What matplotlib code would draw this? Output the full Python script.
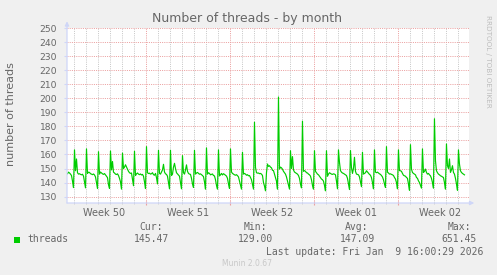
import matplotlib
matplotlib.use("Agg")
import matplotlib.pyplot as plt
from matplotlib.patches import Rectangle
import numpy as np

# ---------------- data (2-hour samples, starting Mon Dec 8 2025 09:00) ----------------
threads = [
    146.0, 146.3, 147.4, 146.8, 146.0, 145.0, 141.0, 136.4,
    163.3, 148.4, 156.8, 147.0, 146.0, 146.3, 145.8, 145.5, 145.9, 144.6, 140.5, 136.2,
    164.0, 146.5, 147.4, 147.2, 146.3, 146.0, 145.6, 146.1, 145.4, 144.0, 140.0, 135.7,
    162.0, 146.0, 147.5, 146.8, 146.2, 145.8, 146.4, 145.5, 144.5, 143.5, 138.5, 135.8,
    162.5, 149.0, 155.0, 147.4, 146.8, 146.0, 145.7, 146.2, 145.0, 143.0, 140.5, 135.3,
    161.0, 150.0, 151.0, 152.7, 151.0, 149.5, 148.0, 147.0, 146.5, 146.8, 142.0, 137.7,
    162.3, 145.0, 146.2, 146.8, 146.0, 145.6, 146.1, 145.4, 145.8, 144.5, 140.5, 135.7,
    165.6, 147.0, 146.4, 146.7, 146.0, 146.3, 147.0, 145.6, 145.2, 146.5, 143.5, 139.0,
    163.0, 146.5, 146.0, 147.5, 149.0, 153.0, 147.5, 146.2, 145.8, 144.5, 140.0, 135.5,
    163.0, 145.0, 146.0, 151.0, 153.7, 150.0, 147.0, 146.2, 145.5, 144.5, 140.0, 135.5,
    159.2, 147.0, 146.0, 149.0, 152.6, 148.0, 146.5, 146.0, 145.8, 143.0, 139.0, 136.5,
    163.0, 146.0, 146.8, 147.2, 146.5, 145.9, 146.2, 145.6, 145.0, 144.2, 140.5, 135.3,
    164.7, 146.0, 147.0, 146.5, 145.5, 145.8, 146.1, 145.0, 144.7, 142.0, 138.0, 135.3,
    163.3, 144.7, 145.5, 146.5, 145.4, 146.3, 145.8, 145.2, 144.6, 143.0, 139.0, 135.8,
    164.0, 147.5, 146.5, 146.0, 145.5, 145.2, 145.6, 144.9, 144.0, 141.0, 138.0, 135.3,
    161.6, 146.0, 146.5, 146.0, 145.2, 145.6, 144.8, 145.0, 143.6, 142.0, 138.5, 135.3,
    183.0, 150.8, 147.0, 146.7, 146.8, 146.3, 146.5, 146.0, 145.0, 140.0, 137.5, 134.1,
    147.0, 153.2, 151.5, 152.0, 151.0, 150.5, 148.7, 148.5, 146.0, 143.5, 141.0, 135.3,
    201.0, 149.6, 151.0, 150.5, 149.5, 148.0, 147.0, 146.0, 144.0, 141.0, 138.0, 135.3,
    162.7, 150.0, 158.5, 149.0, 147.5, 147.0, 146.5, 146.0, 145.0, 143.0, 139.0, 136.2,
    183.8, 148.0, 148.5, 148.0, 147.0, 146.8, 146.0, 145.5, 144.6, 142.0, 138.0, 135.3,
    162.7, 148.0, 147.0, 146.0, 145.5, 144.5, 143.5, 142.5, 142.0, 141.0, 138.0, 134.1,
    162.7, 144.5, 146.0, 147.0, 146.5, 146.0, 145.8, 146.2, 146.0, 145.5, 141.0, 135.5,
    163.3, 154.4, 148.5, 147.4, 146.8, 146.5, 146.0, 145.5, 145.0, 143.0, 139.0, 135.0,
    162.8, 150.8, 146.5, 150.0, 158.0, 148.0, 146.0, 145.8, 145.5, 144.0, 140.5, 137.0,
    161.6, 146.0, 146.5, 147.0, 148.4, 147.5, 146.5, 145.8, 145.2, 143.5, 140.0, 135.5,
    163.3, 147.4, 147.0, 147.4, 146.8, 146.2, 145.8, 145.0, 144.0, 142.0, 139.0, 136.5,
    165.6, 147.4, 146.8, 146.0, 146.2, 145.8, 145.5, 145.0, 143.6, 142.5, 140.0, 135.5,
    163.3, 148.5, 148.4, 148.0, 146.5, 145.2, 144.8, 144.5, 143.6, 143.0, 139.0, 134.5,
    167.0, 149.6, 147.2, 146.5, 146.0, 145.5, 143.6, 143.0, 141.2, 140.0, 138.0, 136.0,
    164.0, 147.2, 148.0, 149.6, 147.2, 146.0, 146.5, 145.5, 144.8, 143.0, 140.0, 136.0,
    185.5, 155.6, 148.4, 147.0, 146.0, 145.5, 144.8, 144.5, 144.0, 143.6, 140.0, 135.3,
    167.5, 152.0, 150.0, 156.8, 147.2, 149.0, 152.0, 147.2, 146.0, 143.0, 139.0, 134.5,
    163.3, 153.2, 148.4, 147.2, 146.5, 146.0, 145.47,
]
start_day = 0.375          # Dec 8 2025 09:00, in days since Mon Dec 8 00:00
samples_per_day = 12

week_labels = ["Week 50", "Week 51", "Week 52", "Week 01", "Week 02"]
week_starts = [7, 14, 21, 28]
y_ticks = list(range(130, 251, 10))

legend_name = "threads"
stat_names = ["Cur:", "Min:", "Avg:", "Max:"]
stat_values = ["145.47", "129.00", "147.09", "651.45"]
last_update = "Last update: Fri Jan  9 16:00:29 2026"

# ---------------- style ----------------
BACK = "#F0F0F0"
FONT = "#666666"
AXIS = "#CFD6F8"
MGRID = "#EBA0A0"
GRID = "#C8C8C8"
LINE = "#00CC00"
W, H = 497, 275

fig = plt.figure(figsize=(W / 100, H / 100), dpi=100)
fig.patch.set_facecolor(BACK)
ax = fig.add_axes([67 / W, 72 / H, 402 / W, 174.7 / H])
ax.set_facecolor("white")

x = start_day + np.arange(len(threads)) / samples_per_day
ax.plot(x, threads, color=LINE, lw=0.85, zorder=3)

ax.set_xlim(5 / 12, 33.92)
ax.set_ylim(125.4, 250)

for s in ax.spines.values():
    s.set_visible(False)

dots = (0, (1, 1.2))
ax.set_yticks(y_ticks)
ax.set_yticklabels([str(v) for v in y_ticks], fontsize=6.6, color=FONT)
ax.tick_params(axis="y", length=2, color=AXIS, pad=5)
ax.yaxis.grid(True, color=MGRID, ls=dots, lw=0.72)

ax.set_xticks(week_starts)
ax.set_xticklabels([])
ax.set_xticks(np.arange(1, 34), minor=True)
ax.tick_params(axis="x", which="major", length=3, color=MGRID, direction="inout")
ax.tick_params(axis="x", which="minor", length=2, color=GRID, direction="inout")
ax.xaxis.grid(True, which="major", color=MGRID, ls=dots, lw=0.72)
ax.xaxis.grid(True, which="minor", color=GRID, ls=dots, lw=0.72)
ax.set_axisbelow(True)

for i, lab in enumerate(week_labels):
    ax.text(3.5 + 7 * i, -0.056, lab, transform=ax.get_xaxis_transform(),
            ha="center", va="center", fontsize=7, color=FONT)

# axis lines with arrows
ax.annotate("", xy=(0, 1.04), xytext=(0, 0), xycoords="axes fraction",
            arrowprops=dict(arrowstyle="-|>", color=AXIS, lw=0.9, mutation_scale=6,
                            shrinkA=0, shrinkB=0), annotation_clip=False)
ax.annotate("", xy=(1.013, 0), xytext=(0, 0), xycoords="axes fraction",
            arrowprops=dict(arrowstyle="-|>", color=AXIS, lw=0.9, mutation_scale=6,
                            shrinkA=0, shrinkB=0), annotation_clip=False)

# title & labels
fig.text(247.5 / W, 1 - 18.5 / H, "Number of threads - by month", ha="center",
         va="center", fontsize=9, color=FONT)
fig.text(11 / W, 1 - 114.3 / H, "number of threads", rotation=90, ha="center",
         va="center", fontsize=8, color=FONT)
fig.text(488 / W, 1 - 15 / H, "RRDTOOL / TOBI OETIKER", rotation=270, ha="center",
         va="top", fontsize=5.2, color="#BDBDBD")

# legend
mono = "DejaVu Sans Mono"
fig.add_artist(Rectangle((14 / W, 1 - 242.5 / H), 6 / W, 6 / H,
                         transform=fig.transFigure, color=LINE, lw=0))
fig.text(27 / W, 1 - 239.3 / H, legend_name, ha="left", va="center",
         fontsize=7, family=mono, color=FONT)
stat_x = [151.5, 255, 357, 459]
for sx, nm, val in zip(stat_x, stat_names, stat_values):
    fig.text(sx / W, 1 - 227.3 / H, nm, ha="center", va="center",
             fontsize=7, family=mono, color=FONT)
    fig.text(sx / W, 1 - 239.3 / H, val, ha="center", va="center",
             fontsize=7, family=mono, color=FONT)
fig.text(483 / W, 1 - 251.7 / H, last_update, ha="right", va="center",
         fontsize=7, family=mono, color=FONT)
fig.text(247.5 / W, 1 - 264 / H, "Munin 2.0.67", ha="center", va="center",
         fontsize=5.5, color="#C8C8C8")

fig.savefig("out.png", dpi=100, facecolor=BACK)
